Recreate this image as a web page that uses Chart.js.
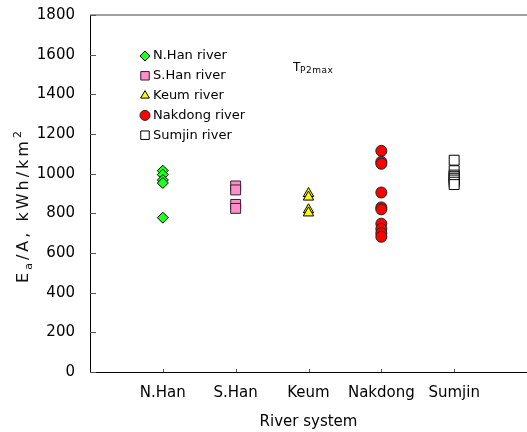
<!DOCTYPE html>
<html>
<head>
<meta charset="utf-8">
<script src="https://cdn.jsdelivr.net/npm/chart.js@4.4.0/dist/chart.umd.min.js"></script>
<style>
  html, body { margin: 0; padding: 0; background: #fff; }
  #wrap { width: 527px; height: 432px; }
</style>
</head>
<body>
<div id="wrap"><canvas id="chart" width="527" height="432"></canvas></div>
<script>
// River systems along the x axis
const rivers = ["N.Han", "S.Han", "Keum", "Nakdong", "Sumjin"];
const legendNames = ["N.Han river", "S.Han river", "Keum river", "Nakdong river", "Sumjin river"];

// Ea/A values (kWh/km2)
const nHanValues = [1015, 995, 968, 953, 778];
const sHanValues = [938, 918, 845, 825];
const keumValues = [900, 882, 818, 802];
const nakdongValues = [1115, 1060, 1050, 905, 830, 820, 748, 722, 700, 682];
const sumjinValues = [1068, 1015, 993, 985, 977, 968, 957, 945];

const yMin = 0;
const yMax = 1800;
const yStep = 200;

const FONT = "'DejaVu Sans', sans-serif";

function toPoints(values, riverIndex) {
  return values.map(v => ({ x: riverIndex + 1, y: v }));
}

const datasets = [
  { label: legendNames[0], data: toPoints(nHanValues, 0), pointStyle: "rectRot", pointRadius: 5.5,
    backgroundColor: "#22ff22", borderColor: "#000", borderWidth: 1 },
  { label: legendNames[1], data: toPoints(sHanValues, 1), pointStyle: "rect", pointRadius: 7,
    backgroundColor: "#ff8fc8", borderColor: "#3a2030", borderWidth: 1 },
  { label: legendNames[2], data: toPoints(keumValues, 2), pointStyle: "triangle", pointRadius: 6,
    backgroundColor: "#ffff00", borderColor: "#000", borderWidth: 1 },
  { label: legendNames[3], data: toPoints(nakdongValues, 3), pointStyle: "circle", pointRadius: 5.5,
    backgroundColor: "#ff0000", borderColor: "#222", borderWidth: 1 },
  { label: legendNames[4], data: toPoints(sumjinValues, 4), pointStyle: "rect", pointRadius: 7,
    backgroundColor: "#ffffff", borderColor: "#000", borderWidth: 1 }
];

// draw a run of text pieces with different sizes / offsets
function drawPieces(ctx, pieces, x, y, spacing) {
  ctx.save();
  ctx.letterSpacing = spacing + "px";
  let total = 0;
  pieces.forEach(p => {
    ctx.font = p.size + "px " + FONT;
    p.w = ctx.measureText(p.t).width;
    total += p.w;
  });
  let cx = x - total / 2;
  ctx.textAlign = "left";
  ctx.textBaseline = "alphabetic";
  pieces.forEach(p => {
    ctx.font = p.size + "px " + FONT;
    ctx.fillText(p.t, cx, y + (p.dy || 0));
    cx += p.w;
  });
  ctx.restore();
}

const decorPlugin = {
  id: "decor",
  afterDraw(chart) {
    const ctx = chart.ctx;
    const area = chart.chartArea;
    const xs = chart.scales.x;
    const ys = chart.scales.y;

    ctx.save();
    // top frame line
    ctx.strokeStyle = "#808080";
    ctx.lineWidth = 1.5;
    ctx.beginPath();
    ctx.moveTo(area.left, area.top);
    ctx.lineTo(area.right, area.top);
    ctx.stroke();

    // inward ticks
    ctx.strokeStyle = "#555";
    ctx.lineWidth = 1;
    ctx.beginPath();
    ys.ticks.forEach(t => {
      const py = Math.round(ys.getPixelForValue(t.value)) + 0.5;
      ctx.moveTo(area.left, py);
      ctx.lineTo(area.left + 6, py);
    });
    xs.ticks.forEach(t => {
      const px = Math.round(xs.getPixelForValue(t.value)) + 0.5;
      ctx.moveTo(px, area.bottom);
      ctx.lineTo(px, area.bottom - 3);
    });
    ctx.stroke();
    ctx.restore();

    // y axis title, rotated
    ctx.save();
    ctx.fillStyle = "#111";
    ctx.translate(28, (area.top + area.bottom) / 2 + 12);
    ctx.rotate(-Math.PI / 2);
    drawPieces(ctx, [
      { t: "E", size: 16 },
      { t: "a", size: 11, dy: 4 },
      { t: "/A, kWh/km", size: 16 },
      { t: "2", size: 11, dy: -7 }
    ], 0, 0, 3);
    ctx.restore();

    // annotation
    ctx.save();
    ctx.fillStyle = "#000";
    ctx.font = "12px " + FONT;
    ctx.textBaseline = "alphabetic";
    ctx.textAlign = "left";
    const ax = area.left + 203;
    const ay = area.top + 56;
    ctx.fillText("T", ax, ay);
    ctx.letterSpacing = "0.5px";
    ctx.font = "9px " + FONT;
    ctx.fillText("P2max", ax + ctx.measureText("T").width + 1, ay + 2);
    ctx.restore();

    // legend inside the plot
    ctx.save();
    const lx = area.left + 55;
    let ly = area.top + 41;
    chart.data.datasets.forEach(ds => {
      ctx.fillStyle = ds.backgroundColor;
      ctx.strokeStyle = ds.borderColor;
      ctx.lineWidth = 1;
      Chart.helpers.drawPoint(ctx, {
        pointStyle: ds.pointStyle,
        radius: ds.pointStyle === "rect" ? 6 : 5,
        rotation: 0,
        borderWidth: 1
      }, lx, ly);
      ctx.fillStyle = "#000";
      ctx.font = "13px " + FONT;
      ctx.textBaseline = "middle";
      ctx.textAlign = "left";
      ctx.fillText(ds.label, lx + 8, ly);
      ly += 19.8;
    });
    ctx.restore();
  }
};

new Chart(document.getElementById("chart"), {
  type: "scatter",
  data: { datasets: datasets },
  options: {
    responsive: false,
    animation: false,
    devicePixelRatio: 1,
    layout: { autoPadding: false, padding: { top: 15, left: 0, right: 0, bottom: 0 } },
    plugins: {
      legend: { display: false },
      tooltip: { enabled: false }
    },
    scales: {
      x: {
        type: "linear",
        min: 0,
        max: rivers.length + 1,
        afterBuildTicks: scale => {
          scale.ticks = rivers.map((r, i) => ({ value: i + 1 }));
        },
        afterFit: scale => {
          scale.height = 60;
          scale.paddingLeft = 0;
          scale.paddingRight = 0;
        },
        grid: { display: true, drawOnChartArea: false, drawTicks: false },
        border: { display: true, color: "#000", width: 1 },
        ticks: {
          autoSkip: false,
          maxRotation: 0,
          padding: 12,
          color: "#000",
          font: { family: FONT, size: 15 },
          callback: value => rivers[value - 1] || ""
        },
        title: {
          display: true,
          text: "River system",
          color: "#000",
          font: { family: FONT, size: 15 },
          padding: { top: 0, bottom: 1 }
        }
      },
      y: {
        min: yMin,
        max: yMax,
        afterFit: scale => {
          scale.width = 90;
          scale.paddingTop = 0;
          scale.paddingBottom = 0;
        },
        grid: { display: true, drawOnChartArea: false, drawTicks: false },
        border: { display: true, color: "#000", width: 1 },
        ticks: {
          stepSize: yStep,
          padding: 15,
          color: "#000",
          font: { family: FONT, size: 15 },
          callback: value => String(value)
        }
      }
    }
  },
  plugins: [decorPlugin]
});
</script>
</body>
</html>
